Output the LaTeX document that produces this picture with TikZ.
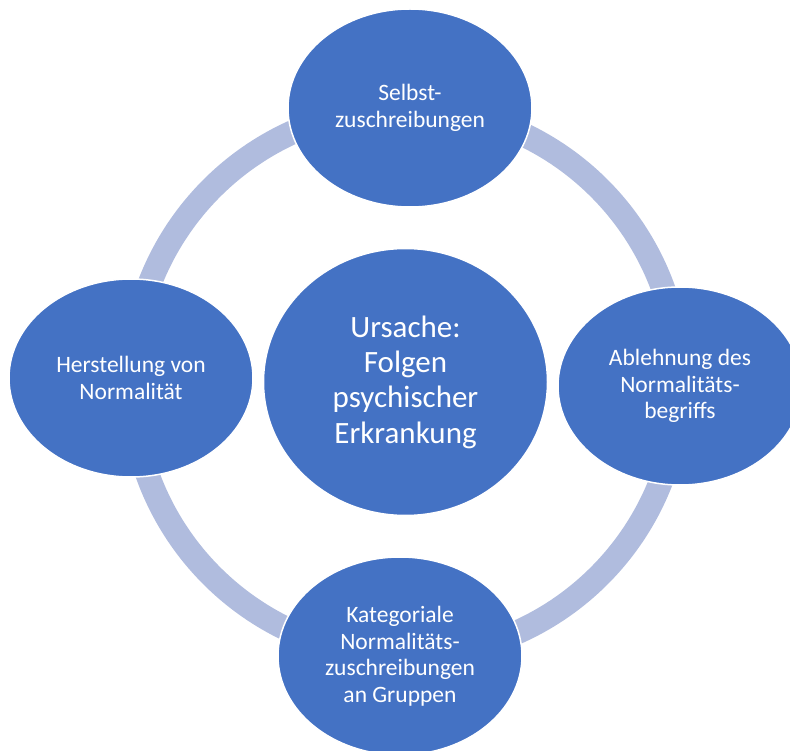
\documentclass[tikz,border=0pt]{standalone}
\usepackage{fontspec}
\setmainfont{Carlito}
\usepackage{xcolor}
\usetikzlibrary{shapes.geometric}
\definecolor{topicblue}{RGB}{68,114,196}
\definecolor{ringblue}{RGB}{176,188,222}
\tikzset{
  topic/.style={ellipse, fill=topicblue, draw=white, line width=1.5pt,
    text=white, align=center, inner sep=0pt,
    minimum width=244pt, minimum height=198pt,
    font=\fontsize{23.5}{26.5}\selectfont},
  cause/.style={ellipse, fill=topicblue, draw=white, line width=1.5pt,
    text=white, align=center, inner sep=0pt,
    minimum width=284pt, minimum height=267pt,
    font=\fontsize{31}{35.3}\selectfont}
}

\begin{document}
\begin{tikzpicture}[x=1pt, y=-1pt]
    \useasboundingbox (0, 0) rectangle (790, 751);
    \clip (0, 0) rectangle (790, 751);
    \coordinate (hub) at (405.5, 382);
    % ring behind everything
    \draw[ringblue, line width=24pt] (hub) circle (274pt);
    \node[cause] (cause) at (hub) {Ursache:\\Folgen\\psychischer\\Erkrankung};
    \node[topic] (self) at (410, 108) {Selbst-\\zuschreibungen};
    \node[topic] (reject) at (680, 386) {Ablehnung des\\Normalitäts-\\begriffs};
    \node[topic] (groups) at (400, 656) {Kategoriale\\Normalitäts-\\zuschreibungen\\an Gruppen};
    \node[topic] (make) at (131, 378) {Herstellung von\\Normalität};
\end{tikzpicture}
\end{document}
